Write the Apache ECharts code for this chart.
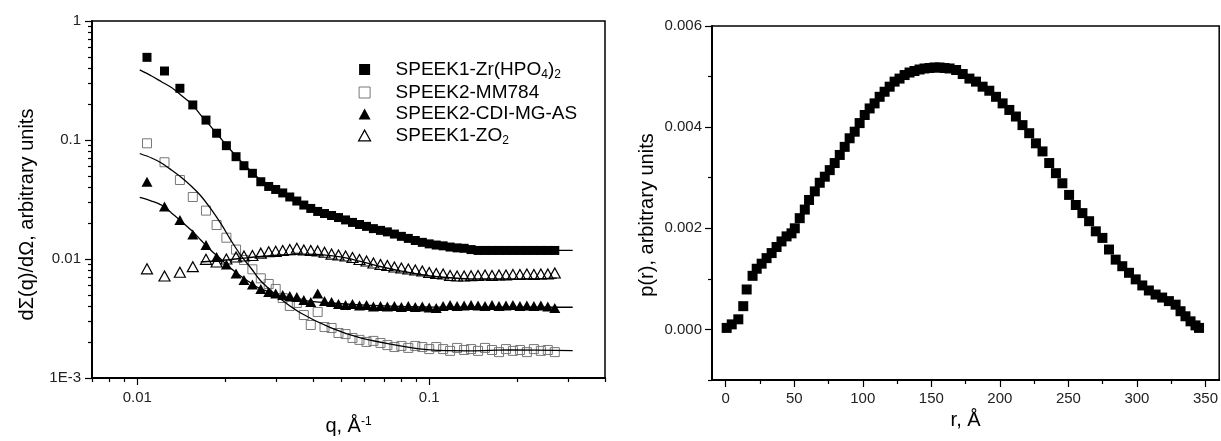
<!DOCTYPE html>
<html>
<head>
<meta charset="utf-8">
<title>SAXS curves and p(r)</title>
<script src="https://cdn.jsdelivr.net/npm/echarts@6.0.0/dist/echarts.min.js"></script>
<style>
  html, body { margin: 0; padding: 0; background: #fff; }
  #chart { width: 1221px; height: 441px; }
</style>
</head>
<body>
<div id="chart"></div>
<script>
// ---- left panel: scattering curves, log-log ----
const names = ['SPEEK1-Zr(HPO4)2', 'SPEEK2-MM784', 'SPEEK2-CDI-MG-AS', 'SPEEK1-ZO2'];

// q of the measured points (1/Å)
const qData = [0.0108, 0.0124, 0.0140, 0.0155, 0.0172, 0.0187, 0.0202, 0.0218, 0.0232, 0.0248, 0.0265,
  0.0282, 0.0298, 0.0315, 0.0333, 0.0352, 0.0372, 0.0393, 0.0415, 0.0438, 0.0463, 0.0489, 0.0517,
  0.0546, 0.0577, 0.0610, 0.0644, 0.0681, 0.0719, 0.0760, 0.0803, 0.0848, 0.0896, 0.0947, 0.100,
  0.1057, 0.1116, 0.1179, 0.1246, 0.1317, 0.1391, 0.1470, 0.1553, 0.1641, 0.1734, 0.1832, 0.1935,
  0.2045, 0.2160, 0.2283, 0.2412, 0.2548, 0.2692];

const zrI = [0.495, 0.380, 0.272, 0.197, 0.147, 0.114, 0.0896, 0.0724, 0.0608, 0.0525, 0.0446,
  0.0407, 0.0384, 0.0359, 0.0332, 0.0307, 0.0284, 0.0266, 0.0251, 0.0241, 0.0232, 0.0223, 0.0213,
  0.0203, 0.0195, 0.0188, 0.0180, 0.0174, 0.0169, 0.0162, 0.0155, 0.0149, 0.0143, 0.0138, 0.0134,
  0.0131, 0.0129, 0.0126, 0.0124, 0.0123, 0.0120, 0.0118, 0.0118, 0.0118, 0.0118, 0.0118, 0.0118,
  0.0118, 0.0118, 0.0118, 0.0118, 0.0118, 0.0118];

const mmI = [0.0938, 0.0650, 0.0461, 0.0332, 0.0255, 0.0193, 0.0151, 0.0120, 0.00981, 0.00819, 0.00688,
  0.00617, 0.00560, 0.00470, 0.00403, 0.00427, 0.00338, 0.00279, 0.00359, 0.00268, 0.00263, 0.00239,
  0.00234, 0.00217, 0.00209, 0.00201, 0.00205, 0.00197, 0.00189, 0.00182, 0.00186, 0.00179, 0.00186,
  0.00182, 0.00175, 0.00182, 0.00175, 0.00169, 0.00179, 0.00172, 0.00175, 0.00169, 0.00179, 0.00172,
  0.00165, 0.00175, 0.00169, 0.00172, 0.00165, 0.00175, 0.00169, 0.00172, 0.00165];

const cdiI = [0.0446, 0.0276, 0.0213, 0.0161, 0.0131, 0.0104, 0.00899, 0.00755, 0.00666, 0.00611, 0.00560,
  0.00528, 0.00513, 0.00498, 0.00489, 0.00479, 0.00452, 0.00435, 0.00513, 0.00444, 0.00435, 0.00419,
  0.00411, 0.00419, 0.00407, 0.00411, 0.00399, 0.00403, 0.00399, 0.00403, 0.00395, 0.00403, 0.00395,
  0.00399, 0.00391, 0.00388, 0.00403, 0.00411, 0.00403, 0.00407, 0.00411, 0.00407, 0.00403, 0.00411,
  0.00403, 0.00407, 0.00411, 0.00403, 0.00407, 0.00403, 0.00407, 0.00399, 0.00388];

const zoI = [0.00827, 0.00720, 0.00774, 0.00862, 0.00994, 0.00944, 0.0100, 0.0104, 0.0106, 0.0107, 0.0112,
  0.0115, 0.0116, 0.0118, 0.0120, 0.0123, 0.0119, 0.0118, 0.0117, 0.0114, 0.0110, 0.0108, 0.0106,
  0.0103, 0.00990, 0.00962, 0.00926, 0.00899, 0.00882, 0.00857, 0.00840, 0.00824, 0.00808, 0.00793,
  0.00770, 0.00755, 0.00748, 0.00727, 0.00720, 0.00720, 0.00724, 0.00727, 0.00734, 0.00727, 0.00734,
  0.00734, 0.00741, 0.00741, 0.00748, 0.00741, 0.00748, 0.00748, 0.00763];

// fitted curves
const fitQ = [0.0102, 0.0112, 0.0121, 0.0131, 0.0141, 0.0153, 0.0165, 0.0179, 0.0194, 0.0209, 0.0226,
  0.0245, 0.0265, 0.0310, 0.0363, 0.0459, 0.0582, 0.0796, 0.1008, 0.138, 0.189, 0.31];
const zrFit = [0.388, 0.345, 0.309, 0.276, 0.239, 0.203, 0.162, 0.129, 0.102, 0.0824, 0.0666,
  0.0549, 0.0461, 0.0366, 0.0301, 0.0234, 0.0193, 0.0153, 0.0131, 0.0120, 0.0118, 0.0118];
const mmFit = [0.0770, 0.0706, 0.0641, 0.0560, 0.0489, 0.0411, 0.0340, 0.0262, 0.0196, 0.01445, 0.0108,
  0.00840, 0.00653, 0.00461, 0.00352, 0.00265, 0.00217, 0.00186, 0.00172, 0.00169, 0.00172, 0.00170];
const cdiFit = [0.0329, 0.0307, 0.0284, 0.0244, 0.0209, 0.0175, 0.01445, 0.0118, 0.00990, 0.00835, 0.00720,
  0.00628, 0.00560, 0.00493, 0.00452, 0.00427, 0.00411, 0.00399, 0.00395, 0.00393, 0.00393, 0.00393];
const zoFitQ = [0.0165, 0.0194, 0.0226, 0.0265, 0.0310, 0.0363, 0.0425, 0.0497, 0.0582, 0.0681, 0.0796,
  0.0932, 0.1090, 0.1276, 0.1493, 0.1890, 0.2735];
const zoFit = [0.00944, 0.00971, 0.0101, 0.0105, 0.0108, 0.0110, 0.0109, 0.0104, 0.00953, 0.00865, 0.00793,
  0.00741, 0.00706, 0.00686, 0.00679, 0.00679, 0.00692];

// ticks
const qMajor = [0.01, 0.1];
const qMajorLabels = ['0.01', '0.1'];
const qMinor = [0.007, 0.008, 0.009, 0.02, 0.03, 0.04, 0.05, 0.06, 0.07, 0.08, 0.09, 0.2, 0.3, 0.4];
const iMajor = [0.001, 0.01, 0.1, 1];
const iMajorLabels = ['1E-3', '0.01', '0.1', '1'];
const iMinor = [0.002, 0.003, 0.004, 0.005, 0.006, 0.007, 0.008, 0.009,
  0.02, 0.03, 0.04, 0.05, 0.06, 0.07, 0.08, 0.09,
  0.2, 0.3, 0.4, 0.5, 0.6, 0.7, 0.8, 0.9];

// ---- right panel: distance distribution p(r) ----
const rData = [0.7, 4.4, 9.2, 12.8, 15.3, 19.6, 22.6, 26.2, 29.8, 33.5, 37.1, 40.7, 44.4, 48, 50.4, 54,
  57.7, 60.8, 65, 68.6, 72.3, 75.9, 79.5, 83.2, 86.8, 90.4, 94.1, 97.7, 101.4, 105, 108.6, 112.3,
  115.9, 119.6, 123.2, 126.8, 130.5, 134.1, 137.7, 141.4, 145, 148.7, 152.3, 156, 159.6, 163.3,
  168.1, 172.9, 177.8, 182.6, 187.4, 192.3, 197.2, 202, 206.9, 211.7, 216.5, 221.4, 226.3, 231.1,
  236, 240.9, 245.6, 250.5, 255.4, 260.2, 265.1, 270, 274.8, 279.6, 284.5, 289.3, 294.2, 299.1,
  303.9, 308.7, 313.6, 318.4, 323.3, 328.2, 331.8, 335.4, 339.1, 342.7, 345.3];
const pData = [0.00003, 0.0001, 0.0002, 0.00046, 0.00079, 0.00106, 0.0012, 0.0013, 0.00141, 0.00151,
  0.00163, 0.00174, 0.00184, 0.0019, 0.002, 0.0022, 0.00237, 0.00256, 0.00273, 0.0029, 0.00302,
  0.00315, 0.00329, 0.00345, 0.00361, 0.00378, 0.00391, 0.00408, 0.00424, 0.00437, 0.00447, 0.0046,
  0.0047, 0.0048, 0.0049, 0.00496, 0.00503, 0.00508, 0.00511, 0.00514, 0.00516, 0.00517, 0.00518,
  0.00518, 0.00517, 0.00516, 0.00513, 0.00505, 0.00496, 0.0049, 0.0048, 0.00472, 0.0046, 0.00447,
  0.00434, 0.00421, 0.00404, 0.00388, 0.00368, 0.00352, 0.00329, 0.00309, 0.00289, 0.00266, 0.00246,
  0.0023, 0.00214, 0.00194, 0.00181, 0.00158, 0.00138, 0.00125, 0.00112, 0.00099, 0.00087, 0.00077,
  0.00069, 0.00063, 0.00056, 0.00049, 0.00036, 0.00026, 0.00016, 0.00008, 0.00003];

const rMajor = [0, 50, 100, 150, 200, 250, 300, 350];
const rMinor = [25, 75, 125, 175, 225, 275, 325];
const pMajor = [0, 0.002, 0.004, 0.006];
const pMinor = [-0.001, 0.001, 0.003, 0.005];

const FONT = '"Liberation Sans", Arial, Helvetica, sans-serif';
const INK = '#000';
const GREY = '#777';

function pairs(xs, ys) {
  return xs.map((x, i) => [x, ys[i]]);
}

// pick the label of the nearest decade
function decadeLabel(ticks, labels) {
  return function (v) {
    let best = 0;
    ticks.forEach((t, i) => {
      if (Math.abs(Math.log10(t / v)) < Math.abs(Math.log10(ticks[best] / v))) best = i;
    });
    return labels[best];
  };
}

function majorAxis(grid, type, min, max, ticks, formatter) {
  return {
    gridIndex: grid, type: type, min: min, max: max,
    splitLine: { show: false },
    axisLine: { show: true, onZero: false, lineStyle: { color: INK, width: 2 } },
    axisTick: { show: true, inside: false, length: 7, customValues: ticks, lineStyle: { color: INK, width: 1.2 } },
    axisLabel: { show: true, customValues: ticks, formatter: formatter, color: '#222', fontFamily: FONT, fontSize: 15 },
    nameTextStyle: { color: INK, fontFamily: FONT, fontSize: 20 }
  };
}

function minorAxis(grid, type, min, max, ticks, position) {
  return {
    gridIndex: grid, type: type, min: min, max: max, position: position,
    splitLine: { show: false },
    axisLine: { show: false, onZero: false },
    axisTick: { show: true, inside: false, length: 4, customValues: ticks, lineStyle: { color: INK, width: 1.2 } },
    axisLabel: { show: false }
  };
}

const legendLabels = {
  'SPEEK1-Zr(HPO4)2': '{g| }{t|SPEEK1-Zr(HPO}{s|4}{t|)}{s|2}',
  'SPEEK2-MM784': '{g| }{t|SPEEK2-MM784}',
  'SPEEK2-CDI-MG-AS': '{g| }{t|SPEEK2-CDI-MG-AS}',
  'SPEEK1-ZO2': '{g| }{t|SPEEK1-ZO}{s|2}'
};

const squarePath = 'path://M0,0H10V10H0Z';
const trianglePath = 'path://M5,0L10,9H0Z';

const xq = majorAxis(0, 'log', 0.007, 0.4, qMajor, decadeLabel(qMajor, qMajorLabels));
xq.position = 'bottom';
xq.axisLabel.margin = 12;
xq.name = '{m|q, Å}{u|-1}';
xq.nameLocation = 'middle';
xq.nameGap = 38;
xq.nameTextStyle.rich = {
  m: { fontSize: 20, fontFamily: FONT, color: INK },
  u: { fontSize: 12, fontFamily: FONT, color: INK, verticalAlign: 'top', lineHeight: 10 }
};

const yi = majorAxis(0, 'log', 0.001, 1, iMajor, decadeLabel(iMajor, iMajorLabels));
yi.position = 'left';
yi.axisLabel.margin = 11;
yi.name = 'dΣ(q)/dΩ, arbitrary units';
yi.nameLocation = 'middle';
yi.nameGap = 55;
yi.nameTextStyle.padding = [0, 30, 0, 0];

const xr = majorAxis(1, 'value', -10, 360, rMajor, v => String(Math.round(v)));
xr.position = 'bottom';
xr.axisLabel.margin = 11;
xr.name = 'r, Å';
xr.nameLocation = 'middle';
xr.nameGap = 30;

const yp = majorAxis(1, 'value', -0.001, 0.006, pMajor, v => Math.abs(v).toFixed(3));
yp.position = 'left';
yp.axisLabel.margin = 10;
yp.name = 'p(r), arbitrary units';
yp.nameLocation = 'middle';
yp.nameGap = 55;
yp.nameTextStyle.padding = [0, 24, 0, 0];

const fitLine = (data) => ({
  type: 'line', xAxisIndex: 0, yAxisIndex: 0, data: data,
  symbol: 'none', showSymbol: false, smooth: 0.3, silent: true, z: 4,
  lineStyle: { color: INK, width: 1.3 }
});

const chart = echarts.init(document.getElementById('chart'), null, { renderer: 'canvas' });
chart.setOption({
  animation: false,
  backgroundColor: '#fff',
  textStyle: { fontFamily: FONT },
  grid: [
    { left: 92, top: 21, width: 513, height: 357, show: true, borderColor: INK, borderWidth: 1.5 },
    { left: 712, top: 26, width: 508, height: 354, show: true, borderColor: INK, borderWidth: 1.5 }
  ],
  xAxis: [
    xq,
    minorAxis(0, 'log', 0.007, 0.4, qMinor, 'bottom'),
    xr,
    minorAxis(1, 'value', -10, 360, rMinor, 'bottom')
  ],
  yAxis: [
    yi,
    minorAxis(0, 'log', 0.001, 1, iMinor, 'left'),
    yp,
    minorAxis(1, 'value', -0.001, 0.006, pMinor, 'left')
  ],
  legend: {
    orient: 'vertical',
    left: 353, top: 55,
    itemWidth: 12, itemHeight: 11, itemGap: 2.5,
    selectedMode: false,
    formatter: name => legendLabels[name],
    textStyle: {
      color: INK, fontFamily: FONT,
      rich: {
        g: { width: 20 },
        t: { fontSize: 19, lineHeight: 22, fontFamily: FONT, color: INK },
        s: { fontSize: 12, lineHeight: 10, verticalAlign: 'bottom', fontFamily: FONT, color: INK }
      }
    },
    data: [
      { name: names[0], icon: squarePath, itemStyle: { color: INK, borderWidth: 0, opacity: 1 } },
      { name: names[1], icon: squarePath, itemStyle: { color: 'rgba(0,0,0,0)', borderColor: GREY, borderWidth: 1, opacity: 1 } },
      { name: names[2], icon: trianglePath, itemStyle: { color: INK, borderWidth: 0, opacity: 1 } },
      { name: names[3], icon: trianglePath, itemStyle: { color: 'rgba(0,0,0,0)', borderColor: INK, borderWidth: 1.2, opacity: 1 } }
    ]
  },
  series: [
    {
      name: names[0], type: 'scatter', xAxisIndex: 0, yAxisIndex: 0, silent: true,
      symbol: 'rect', symbolSize: 9, itemStyle: { color: INK, opacity: 1 },
      data: pairs(qData, zrI)
    },
    {
      name: names[1], type: 'scatter', xAxisIndex: 0, yAxisIndex: 0, silent: true,
      symbol: 'rect', symbolSize: 9,
      itemStyle: { color: 'rgba(0,0,0,0)', borderColor: GREY, borderWidth: 1, opacity: 1 },
      data: pairs(qData, mmI)
    },
    {
      name: names[2], type: 'scatter', xAxisIndex: 0, yAxisIndex: 0, silent: true,
      symbol: 'triangle', symbolSize: [11, 10], itemStyle: { color: INK, opacity: 1 },
      data: pairs(qData, cdiI)
    },
    {
      name: names[3], type: 'scatter', xAxisIndex: 0, yAxisIndex: 0, silent: true,
      symbol: 'triangle', symbolSize: [11, 10],
      itemStyle: { color: 'rgba(0,0,0,0)', borderColor: INK, borderWidth: 1.2, opacity: 1 },
      data: pairs(qData, zoI)
    },
    Object.assign(fitLine(pairs(fitQ, zrFit)), { name: 'fit Zr' }),
    Object.assign(fitLine(pairs(fitQ, mmFit)), { name: 'fit MM784' }),
    Object.assign(fitLine(pairs(fitQ, cdiFit)), { name: 'fit CDI' }),
    Object.assign(fitLine(pairs(zoFitQ, zoFit)), { name: 'fit ZO2' }),
    {
      name: 'p(r)', type: 'scatter', xAxisIndex: 2, yAxisIndex: 2, silent: true,
      symbol: 'rect', symbolSize: 10, itemStyle: { color: INK, opacity: 1 },
      data: pairs(rData, pData)
    }
  ]
});
</script>
</body>
</html>
